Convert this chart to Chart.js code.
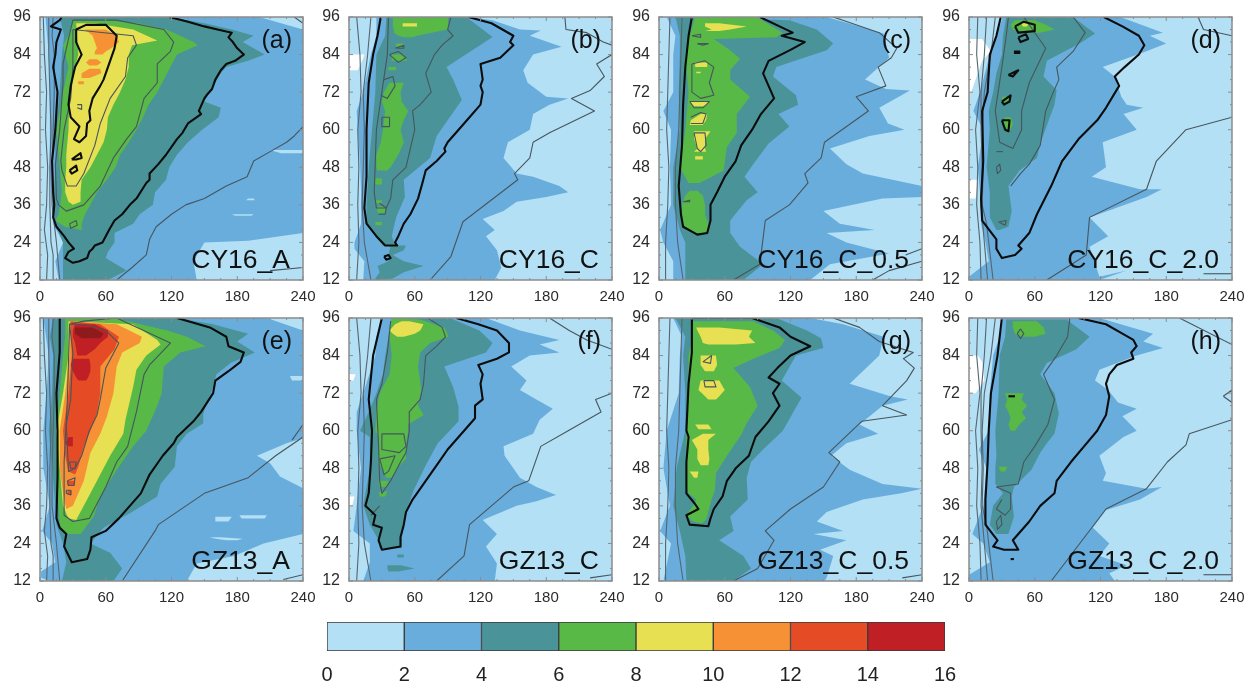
<!DOCTYPE html>
<html>
<head>
<meta charset="utf-8">
<script src="https://cdn.jsdelivr.net/npm/chart.js@4"></script>
<style>
  html, body { margin: 0; padding: 0; background: #fff; overflow: hidden; }
  canvas { position: absolute; filter: blur(0.45px); }
</style>
</head>
<body>
<script>
// colour bar
const barTicks = [0, 2, 4, 6, 8, 10, 12, 14, 16];
const barColors = ['#b3e0f5', '#69addd', '#4a9499', '#58b947', '#e6e052', '#f79135', '#e54c26', '#c01f25', '#8e1a1c'];
const white = '#ffffff';

// thin contours hugging the left edge
const leftAE = [
  [[3,96],[4,84],[6,72],[5,60],[7,48],[6,36],[4,28],[7,20],[6,12]],
  [[8,96],[8,84],[9,72],[10,60],[9,48],[9,36],[10,24],[12,20],[12,12]],
  [[12,96],[11,90],[13,84],[13,72],[12,60],[11,48],[11,36],[15,24],[18,12]]
];
const leftBF = [
  [[7,96],[10,84],[11,72],[8,60],[9,48],[8,36],[9,24],[7,12]],
  [[20,96],[17,84],[13,72],[14,60],[13,48],[12,36],[14,24],[20,12]]
];
const leftCG = [
  [[10,96],[9,84],[8,72],[7,60],[9,48],[8,36],[6,24],[6,12]],
  [[21,96],[20,84],[19,72],[18,60],[15,48],[15,36],[17,24],[22,12]]
];
const leftDH = [
  [[8,96],[7,84],[10,72],[6,60],[8,48],[7,36],[10,24],[11,12]],
  [[16,96],[14,84],[11,72],[11,60],[12,48],[11,36],[14,24],[17,12]],
  [[24,96],[20,84],[14,72],[12,60],[13,48],[12,36],[16,30],[22,12]]
];

// panel a
const a2 = [[200,96],[240,92],[240,27],[190,24.5],[150,24],[140,18],[143,12],[17,12],[14,18],[21,24],[12,30],[9,48],[9,72],[8,84],[5,96]];
const aHoles = [[[53.5,210,240],[52.5,220,240]], [[38,190,195],[37.5,188,196]], [[33,175,195],[32.5,178,193]]];
const a4 = [[118,96],[150,94],[175,92],[195,90],[185,88],[195,86],[205,84],[190,82],[170,80],[165,78],[160,75],[155,72],[150,69],[165,67],[163,64],[148,60],[135,56],[125,52],[118,48],[115,44],[105,40],[103,36],[91,33],[85,30],[68,27],[68,24],[62,21],[60,19],[79,15],[62,12],[21,12],[21,18],[21,24],[14,30],[12,36],[14,48],[14,60],[18,72],[20,84],[22,90],[18,96]];
const a6 = [[60,95],[90,94],[115,92],[128,90],[140,88],[144,87],[131,85],[125,84],[119,80],[113,76],[107,72],[99,68],[94,64],[88,60],[81,56],[73,52],[69,48],[61,44],[52,40],[46,36],[41,33],[38,30],[38,28],[23,29],[14,31],[17,33],[20,40],[18,48],[15,60],[21,72],[26,80],[21,87],[26,90],[30,95]];
const a8 = [[50,94],[85,92],[107,88.5],[84,87],[81,84],[81,80],[78,76],[73,72],[67,68],[62,64],[61,60],[58,56],[52,52],[46,48],[38,44],[37,40],[37,37],[30,36],[26,37],[23,40],[23,44],[24,48],[24,52],[26,60],[27,72],[29,76],[35,84],[33,94]];
const a10 = [[[92,41,60],[90,48,70],[88,50,72],[86,52,65],[85,50,60],[84,50,57]], [[82.5,45,52],[81.5,42,56],[80.5,45,52]], [[79.5,45,55],[78,38,56],[76.5,38,45]], [[75.5,35,40],[74.5,35,40]]];
const aThick = [
  [[118,96],[135,94.5],[150,93],[162,92],[175,91],[172,89.5],[176,88],[180,86],[186,84],[178,82],[170,81],[165,79],[160,76],[157,73],[152,71],[150,70],[145,66],[147,65],[135,62],[130,59],[125,57],[115,52],[108,49],[100,46],[100,44],[97,43],[88,38],[82,36],[75,33],[68,31],[63,28],[60,26],[57,24],[50,23],[48,22],[45,21],[43,19],[36,18],[30,17.5],[23,19],[26,21],[31,22],[26,24],[22,26],[15,29],[12,32],[13,36],[12,40],[11,50],[14,60],[15,66],[16,72],[14,76],[12,80],[14,84],[15,88],[19,92],[10,93],[18,95],[20,96]],
  [[33,92],[42,93.5],[60,93.5],[70,90],[68,86],[62,80],[58,76],[55,74],[48,70],[45,66],[46,63],[43,62],[42,58],[36,56],[31,57],[36,61],[28,64],[26,68],[28,74],[32,80],[38,84],[33,88],[33,92]],
  [[29,50.5],[37,52.5],[38,51],[33,50.5],[29,50.5]],
  [[27,47],[33,48.5],[34,47],[29,46],[27,47]]
];
const aThin = [
  [[70,95],[113,92],[122,88],[119,85],[107,81],[107,75],[95,70],[88,61],[79,57],[67,51],[55,42],[40,36],[24,34],[17,36],[15,38],[14,49],[18,60],[21,75],[21,81],[26,89],[30,95],[70,95]],
  [[30,92],[85,90],[88,87],[80,83],[78,77],[64,70],[55,62],[50,55],[40,46],[33,42],[25,42],[20,47],[19,50],[22,60],[28,70],[30,80],[30,92]],
  [[70,12],[84,16],[97,20],[100,25],[106,29],[120,33],[133,36],[150,38],[170,42],[189,45],[195,50],[210,53],[225,56],[232,58],[240,61]],
  [[210,15],[240,16]],
  [[232,96],[240,94]],
  [[27,30],[33,31],[34,29.5],[28,28.5],[27,30]],
  [[34,68],[38,68],[38,66.5],[34,67]]
];

// panel b
const b2 = [[110,96],[131,95],[156,92],[175,91.7],[165,90],[194,86.5],[168,84],[159,79],[163,75],[180,70.5],[200,70],[183,68],[168,65],[165,60],[145,56],[141,51],[153,46],[168,45],[192,42],[200,40],[180,38.5],[153,37],[141,34],[122,31.5],[133,28],[125,26],[135,21.5],[139,16],[133,12],[13,12],[14,18],[5,22],[5,24],[11,30],[11,40],[10,50],[8,60],[7,66],[13,72],[20,84],[25,90],[25,96]];
const b4 = [[107,96],[131,89.6],[122,87.5],[89,80],[95,76],[103,69.5],[90,63],[80,58],[74,51],[50,44],[51,38.5],[43,32],[39,26],[43,22.5],[31,23],[24,26],[16,30],[16,36],[18,48],[21,60],[24,72],[25,84],[33,90],[34,96]];
const b4b = [[23,38,52],[21.5,37,50],[20,36,40],[18,36,50],[16.5,26,68],[14.5,28,50],[12.5,24,40],[12,24,30]];
const b6 = [[[96,40,90],[93,40,91],[92,41,90],[91,41,75],[90,45,62],[89.5,50,58]], [[75,37,50],[72,32,47],[69,30,48],[66,33,54],[63,32,50],[60,31,47],[56,29,50],[52,25,45],[48,25,38],[47,26,35]], [[44.5,24,30],[42.5,24,30]], [[37.5,24,30],[36.5,24,30]], [[35.5,26,33],[33.5,26,33]], [[30.5,24,30],[29.5,24,30]], [[87.5,43,50],[86.5,43,50]], [[84,39,50],[82,39,53]], [[80,36,43],[79,36,43]]];
const b8 = [[94,49,62],[93,49,62]];
const bThick = [
  [[109,96],[130,94],[140,92],[150,90],[147,88],[150,87],[138,83],[120,81],[122,76],[120,74],[122,72],[120,68],[110,64],[100,60],[90,56],[87,54],[88,53],[80,50],[70,47],[67,43],[63,38],[56,33],[50,30],[45,26],[42,24],[44,23],[33,23],[25,26],[16,30],[14,35],[16,45],[16,60],[18,75],[22,84],[26,90],[29,96]],
  [[32,19.5],[36,20],[38,19],[34,18.5],[32,19.5]]
];
const bThin = [
  [[93,96],[90,92],[95,90],[85,87],[78,84],[70,78],[75,72],[65,68],[58,66],[60,60],[52,48],[40,44],[38,38],[34,35],[25,35],[23,40],[25,60],[30,72],[35,84],[36,96]],
  [[74,12],[93,19.5],[104,30.6],[154,44],[151,46],[165,51],[168,56],[183,59],[224,66],[203,70],[220,72.5],[233,77],[226,81],[240,84]],
  [[197,96],[198,92],[217,91],[232,88],[240,87]],
  [[37,84],[45,85],[52,83],[45,81.5],[37,84]],
  [[32,76],[40,77],[42,74],[35,70],[29,71]],
  [[30,64],[37,64],[37,61],[30,61],[30,64]],
  [[42,86],[50,87],[50,86],[44,86]],
  [[28,36.5],[34,35],[33,33],[27,33]]
];
const bWhite = [[84,0,14],[82,0,12],[79,0,8]];

// panel c
const c2 = [[153,96],[205,90.7],[210,83],[188,76],[207,73],[229,72.5],[201,67],[209,62],[224,60],[192,58],[156,54],[171,49],[186,46],[240,42],[240,38.5],[204,38],[150,34],[165,30],[197,28],[153,27],[171,24],[210,20.5],[156,17],[138,12],[13,12],[13,18],[4,24],[1,28],[11,36],[10,48],[11,60],[4,66],[13,72],[13,84],[15,90],[7,96]];
const c4 = [[119,95],[144,92],[159,87.5],[153,85.4],[107,80],[104,77],[125,71],[127,68],[109,65],[119,61],[100,55.6],[86,49],[78,45],[90,40],[80,37.5],[65,31],[65,27],[74,22.6],[95,17],[77,12],[24,12],[24,24],[19,28],[13,36],[13,48],[19,60],[18,72],[19,84],[19,90],[15,96]];
const c6 = [[89,96],[113,91],[107,89.5],[50,89],[65,85.4],[74,82.7],[65,79],[65,76],[83,70.5],[71,65],[71,59],[62,54.5],[59,47],[37,43],[27,43],[19,48],[24,60],[27,72],[24,84],[28,90],[33,96]];
const c6b = [[40.5,28,35],[39,24,40],[36,21,42],[33,21,42],[30,22,45],[28,26,45],[27,33,42]];
const c8 = [[[94,42,55],[93,42,80],[92,48,65],[91.5,42,55]], [[81.5,33,44],[80,33,44]], [[78.5,34,38],[78,34,38]], [[69,28,46],[67.5,32,42]], [[65,38,44],[63,29,43],[61.5,28,40]], [[59.5,32,47],[57,32,42],[54,35,42],[53,32,43]], [[51.5,33,40],[50.5,33,40]]];
const cThick = [
  [[92,96],[110,93],[122,91],[112,90],[133,88],[120,85.5],[100,82],[95,78],[100,74],[105,70],[93,65],[85,60],[75,55],[70,50],[60,45],[53,40],[47,36],[47,31],[44,27],[35,26.5],[22,29],[20,33],[18,42],[21,55],[22,68],[24,80],[27,90],[30,96]]
];
const cThin = [
  [[68,12],[92,17],[97,31],[119,36],[136,43],[133,46],[148,51],[151,56],[191,66],[180,70.5],[207,74],[200,80],[212,83],[217,86],[201,91],[159,96]],
  [[30,81],[42,82],[50,80],[46,75],[50,71],[38,70],[30,72],[30,78],[30,81]],
  [[28,69],[46,69],[40,67],[32,67],[28,69]],
  [[29,64],[38,65.5],[43,65],[40,62],[29,62]],
  [[32,59],[42,59],[43,55],[38,53],[35,54],[32,59]],
  [[30,90],[38,90.5],[38,89.5],[30,90]],
  [[35,87.5],[45,87.5],[40,87],[35,87.5]],
  [[22,37],[28,37.5],[28,37],[22,37]],
  [[195,12],[210,15],[240,18]],
  [[225,20],[240,22]]
];

// panel d
const d2 = [[138,96],[177,91],[165,90],[180,87.5],[156,84.3],[122,80],[133,77],[139,70.5],[144,68],[159,67],[141,65],[153,60],[122,56],[125,48],[112,45],[156,41],[176,41],[162,38.5],[110,32],[127,26],[110,22.6],[119,13],[144,15],[119,12],[0,12],[0,13],[18,18],[15,24],[11,30],[10,40],[8,48],[13,60],[4,66],[10,72],[19,84],[25,90],[31,96]];
const d4 = [[95,96],[115,90.7],[101,87.5],[71,82],[68,77],[80,72.6],[78,68],[65,55.6],[62,51],[46,47],[36,42],[39,34],[36,29],[28,28],[25,28],[19,32],[19,40],[16,48],[19,60],[18,66],[22,72],[25,78],[30,84],[31,90],[34,96]];
const d6 = [[[95,42,60],[93.5,38,70],[92,40,78],[91,50,65]], [[70.5,30,38],[69,30,36]], [[64,33,38],[62,31,40],[60,35,38]]];
const d8 = [[94,48,54],[93,49,53]];
const dThick = [
  [[123,96],[140,93],[155,90],[160,87],[155,84],[142,80],[133,77],[137,74],[125,67],[117,63],[100,57],[85,50],[75,42],[62,33],[55,27],[45,23],[48,22],[42,20],[30,19],[25,22],[25,25],[12,31],[11,38],[13,50],[12,66],[17,72],[19,84],[25,90],[29,96]],
  [[42,93],[50,94.5],[60,93.5],[60,91.5],[45,91],[42,93]],
  [[45,89.5],[52,90.5],[54,89],[47,88],[45,89.5]],
  [[41,85],[46,85],[46,84.5],[41,84.5]],
  [[36,77.5],[45,79],[40,77],[36,77.5]],
  [[30,69],[38,71],[37,69],[32,68],[30,69]],
  [[30,63],[37,63],[36,59.5],[33,60],[30,63]]
];
const dThin = [
  [[95,96],[106,91],[95,85],[80,80],[82,76],[77,72],[70,66],[65,55],[55,49],[47,46],[38,42]],
  [[50,96],[70,86],[55,75],[48,66],[48,60],[40,54],[28,56],[24,66],[30,80],[34,90],[36,96]],
  [[71,12],[107,20],[110,32],[162,41],[171,50],[198,60],[240,64]],
  [[209,96],[214,92],[240,90]],
  [[214,14],[240,14]],
  [[27,30.5],[34,31],[33,29.5],[27,30.5]],
  [[25,53],[31,53]],
  [[25,48],[28,49],[29,47],[26,46],[25,48]]
];
const dWhite = [[[89,0,12],[85,0,20],[82,0,12],[78,0,8],[72,0,2]], [[44,0,8],[38,0,6]]];

// panel e
const e2 = [[207,96],[240,92],[240,57.6],[225,56],[198,52],[210,49.6],[219,45.4],[240,41.6],[240,27],[204,24],[177,20],[143,17.6],[134,12],[9,12],[1,13],[1,15],[14,18],[11,24],[2,28],[9,36],[3,48],[3,60],[6,72],[8,84],[3,96]];
const eHoles = [[[32.5,160,175],[31,160,172]], [[33,182,207],[32,184,205]], [[26,155,165],[25.5,160,185],[25,170,180]], [[77.5,228,240],[76,230,240]]];
const e4 = [[125,96],[158,94],[190,91],[180,88.5],[196,85],[174,81.6],[161,78],[158,74],[149,65.5],[149,62.4],[134,59],[125,55],[123,48.5],[110,43],[107,39],[82,33.6],[58,29],[46,24],[64,21],[75,16],[67,12],[20,12],[24,18],[21,24],[15,30],[14,36],[11,48],[8,60],[11,72],[12,84],[9,90],[12,96]];
const e6 = [[67,96],[116,92],[134,90],[151,87],[128,85],[113,80.5],[111,72],[107,68],[97,60],[85,55],[70,47.5],[55,39],[49,32.6],[37,27],[24,27],[18,30],[17,36],[15,48],[15,60],[18,72],[21,84],[23,90],[23,96]];
const e8 = [[85,94],[107,89],[110,87.5],[97,84],[88,79.5],[85,74],[78,63.5],[76,59],[64,52],[52,44],[43,38],[33,31.5],[26,32],[21,36],[18,48],[15,60],[21,72],[26,84],[26,95]];
const e10 = [[70,94],[93,90],[91,88],[75,85],[70,80.5],[67,72],[61,64.5],[55,59],[46,53],[40,44],[30,36],[24,35],[21,40],[18,48],[18,60],[23,72],[27,84],[27,95]];
const e12 = [[55,94],[72,90],[68,86],[55,80.5],[55,72],[52,65.5],[46,60],[40,55],[35,48.5],[32,46],[26,47],[23,52],[21,60],[26,72],[29,84],[28,95]];
const e12b = [[[44,25,32],[42.5,25,32]], [[41,25,29],[39.5,25,29]]];
const e14 = [[[94,32,50],[92,30,62],[90,30,62],[88,32,55],[86,33,50],[84,34,42]], [[83,30,45],[81,28,46],[79,30,46],[77,33,44],[76,35,42]], [[58,26,30],[56,23,30],[55,26,30]]];
const e16 = [[93,32,48],[91,32,58],[89.5,38,55]];
const eThick = [
  [[125,96],[155,93],[170,90],[172,87],[186,85],[183,82],[172,79],[160,76],[158,72],[147,66],[140,63],[125,58],[122,56],[112,52],[100,46],[92,40],[72,32],[60,28],[47,26],[46,22],[43,19],[29,18],[22,23],[24,27],[18,29],[15,32],[16,45],[16,60],[15,72],[18,85],[18,96]]
];
const eThin = [
  [[70,96],[119,88],[100,81],[95,78],[88,66],[80,55],[70,50],[60,42],[45,32],[30,31],[22,33],[22,50],[25,70],[27,94],[40,95],[70,96]],
  [[72,88],[60,80],[55,70],[52,65],[45,60],[38,52],[32,48],[26,47],[25,55],[24,62],[28,70],[30,85],[27,94],[40,94],[60,92],[72,88]],
  [[75,12],[105,28],[108,30],[150,40],[190,45],[215,52],[240,58]],
  [[230,57],[240,62]],
  [[222,12.5],[240,14]],
  [[25,44],[32,45],[31,42.5],[26,42.5],[25,44]],
  [[24,41],[28,41],[28,39.5],[24,40],[24,41]],
  [[27,50],[33,50],[32,48],[28,48],[27,50]]
];

// panel f
const f2 = [[125,96],[156,92],[192,89],[174,87.5],[192,85],[165,84],[148,80.5],[162,76],[156,73],[171,70],[186,67],[174,63.5],[168,59],[141,55],[142,52],[156,45],[171,42],[189,39.5],[171,37.5],[153,36],[122,31.5],[135,27],[125,23],[135,17.6],[133,12],[13,12],[19,18],[19,24],[4,28],[7,36],[11,48],[7,60],[7,66],[13,72],[24,84],[25,90],[30,96]];
const f4 = [[92,96],[119,92],[131,88],[125,85],[87,80.5],[95,74],[100,67.7],[100,63],[81,56],[71,49.6],[59,41],[54,36],[48,28],[48,22.5],[28,22.5],[27,25],[19,30],[13,36],[19,48],[19,58],[10,60],[18,66],[25,72],[31,78],[33,84],[36,90],[39,96]];
const f4b = [[[17,35,47],[16,35,60],[15,36,45]], [[20.5,44,50],[19.5,44,50]]];
const f6 = [[65,95.5],[87,93],[91,90],[74,88],[65,85],[63,80.5],[66,73],[63,68],[68,65],[54,62],[54,60],[52,55],[52,51],[45,48.5],[39,45],[34,45],[31,47],[27,50],[27,58],[24,60],[25,66],[28,72],[37,78],[39,84],[37,90],[39,96]];
const f6b = [[[44,27,36],[42,28,35]], [[40.5,27,35],[39,28,33]]];
const f8 = [[95,48,55],[94,42,68],[92,37,65],[91,40,60],[90,44,50]];
const fThick = [
  [[98,96],[118,94],[135,92],[146,88],[146,85],[135,83],[118,81],[122,78],[120,75],[122,70],[115,68],[115,64],[110,62],[100,58],[90,54],[82,50],[70,44],[58,38],[52,34],[50,30],[47,26],[47,23],[30,22],[27,25],[30,29],[22,30],[24,33],[15,36],[18,40],[20,50],[21,60],[18,70],[22,84],[30,96]]
];
const fThin = [
  [[72,96],[85,93],[88,90],[80,87],[70,84],[68,75],[65,70],[55,66],[55,60],[52,53],[47,50],[38,44],[30,40],[28,44],[27,55],[25,70],[30,75],[35,85],[38,95]],
  [[80,12],[105,20],[110,30],[150,42],[164,44],[175,55],[200,60],[230,66],[225,70],[240,72]],
  [[183,96],[201,92],[217,89],[240,86]],
  [[30,59],[50,59],[52,55],[46,53],[30,54],[30,59]],
  [[28,51],[42,52],[36,47],[32,46],[28,51]],
  [[28,36],[20,33]],
  [[240,14],[220,13]]
];
const fWhite = [[[78,0,6],[76,0,4]], [[39,0,5],[36,0,3]]];

// panel g
const g2 = [[138,96],[168,94],[205,90],[201,84],[174,75],[211,71],[227,70],[204,68],[183,62],[200,59],[171,56],[157,52],[174,47.5],[204,43],[240,41.5],[221,40],[186,38],[153,34],[144,31],[168,28],[141,27],[171,25],[147,22],[159,20],[153,13],[151,12],[4,12],[11,24],[1,28],[10,36],[4,48],[7,60],[18,72],[19,84],[21,90],[13,96]];
const g4 = [[107,96],[135,92],[148,89.5],[150,86.4],[125,84],[112,76],[130,70.5],[122,65.6],[113,60],[95,54],[84,50],[80,45],[81,38],[65,32.6],[68,28],[55,25],[77,20],[84,16],[68,12],[25,12],[24,20],[19,28],[13,36],[16,48],[24,60],[24,72],[22,84],[24,90],[15,96]];
const g6 = [[86,95],[104,92],[115,89],[110,86.4],[86,83],[68,80],[83,74],[90,68],[80,62.4],[75,58.7],[62,52],[52,46.4],[51,41],[48,38],[43,31.5],[39,30.4],[31,31],[25,33],[31,36],[34,38],[27,40],[25,42],[25,48],[25,60],[27,72],[27,84],[31,90],[31,95]];
const g8 = [[[93,34,55],[92,35,85],[90,38,82],[88,40,88],[87.5,45,70]], [[84,38,52],[81,38,53],[79,42,50]], [[76,38,55],[73,36,60],[71,42,55],[70,45,52]], [[62,33,45],[60.5,36,48]], [[59,40,52],[57,30,45],[54,35,45],[51,35,46],[49,38,45]], [[47,28,36],[45,32,35]]];
const gThick = [
  [[30,96],[85,96],[110,93],[120,90],[138,87],[120,84],[108,80],[100,77],[110,75],[104,72],[110,68],[100,63],[88,58],[82,52],[70,48],[62,44],[58,39],[50,35],[47,32],[45,29.5],[28,30],[25,33],[36,35],[32,37],[25,40],[25,50],[27,58],[25,60],[27,75],[30,85],[30,96]]
];
const gThin = [
  [[68,12],[90,16],[105,25],[97,28],[120,35],[150,42],[165,50],[155,53],[185,63],[226,65],[204,68],[226,76],[233,80],[223,83],[232,85],[201,88.5],[183,93],[159,96]],
  [[40,82],[48,84],[47,81.5],[40,82]],
  [[41,76],[50,76],[52,74],[42,74],[41,76]],
  [[240,14],[222,13]]
];

// panel h
const h2 = [[119,96],[168,91],[159,88.5],[177,86.4],[153,84],[119,79.5],[115,76],[127,73],[136,69],[153,67],[140,64.6],[153,60],[141,58],[119,52],[125,46.4],[122,44],[162,41.5],[176,42],[156,38],[125,34.7],[113,29],[128,24],[119,20],[144,17],[128,14.5],[133,12],[0,12],[0,14],[19,18],[13,24],[3,27],[13,36],[16,48],[9,54],[18,60],[19,72],[22,84],[28,90],[31,96]];
const h4 = [[89,95.5],[110,90],[98,86],[71,81.6],[65,78],[78,72],[82,65.6],[78,59],[71,56],[65,53],[57,47.5],[41,42],[39,39],[41,32.6],[36,27],[25,27],[19,30],[22,36],[31,40],[24,43],[24,48],[25,52],[24,60],[27,72],[28,84],[33,90],[34,95.5]];
const h6 = [[[95,40,62],[93,40,68],[91,42,70],[90,46,60]], [[72,33,50],[70,35,48],[68,33,53],[66,36,48],[64,38,52],[62,36,46],[60,38,42]], [[48.5,27,35],[47,29,33]]];
const hThick = [
  [[100,96],[125,94],[140,91],[150,89],[153,87],[148,85],[150,83],[135,81],[128,78],[125,75],[128,71],[125,65],[117,60],[105,55],[93,50],[80,44],[78,40],[65,36],[55,31],[45,27],[40,25],[45,22],[32,22],[22,23],[26,25],[15,30],[15,38],[17,50],[18,60],[20,72],[26,84],[30,96]],
  [[36,71],[42,71]],
  [[38,19],[41,19]]
];
const hThin = [
  [[92,96],[90,90],[80,84],[68,78],[78,70],[72,62],[60,55],[50,50],[45,43],[25,42],[38,40],[38,35],[33,33],[25,35],[30,38]],
  [[44,91],[47,92.5],[50,91],[47,89.5],[44,91]],
  [[25,31],[29,33],[30,30],[26,28.5],[25,31]],
  [[75,12],[112,29],[125,35],[162,41.5],[181,50],[198,55.5],[201,59],[240,63.5]],
  [[192,96],[240,87.5]],
  [[214,14],[240,14]],
  [[232,71],[240,73],[240,69],[232,71]]
];
const hWhite = [[84,0,8],[82,0,12],[76,0,14],[72,0,6]];

const plotBox = [[0, 240], [12, 96]];

// island rows are [y, left, right], turn them into an outline
function rowsToOutline(rows) {
  const right = rows.map(r => [r[2], r[0]]);
  const left = rows.map(r => [r[1], r[0]]).reverse();
  return right.concat(left);
}
const many = (colorIdx, list) => list.map(rows => [colorIdx, rowsToOutline(rows)]);
const full = [[plotBox[0][1], plotBox[1][1]], [plotBox[0][1], plotBox[1][0]], [plotBox[0][0], plotBox[1][0]], [plotBox[0][0], plotBox[1][1]]];

const panels = [
  { tag: '(a)', name: 'CY16_A', left: 0, top: 0, strip: leftAE, thick: aThick, thin: aThin,
    fills: [[1, a2], ...many(0, aHoles), [2, a4], [3, a6], [4, a8], ...many(5, a10)] },
  { tag: '(b)', name: 'CY16_C', left: 309, top: 0, strip: leftBF, thick: bThick, thin: bThin,
    fills: [[1, b2], ...many(-1, [bWhite]), [2, b4], ...many(2, [b4b]), ...many(3, b6), ...many(4, [b8])] },
  { tag: '(c)', name: 'CY16_C_0.5', left: 619, top: 0, strip: leftCG, thick: cThick, thin: cThin,
    fills: [[1, c2], [2, c4], [3, c6], ...many(3, [c6b]), ...many(4, c8)] },
  { tag: '(d)', name: 'CY16_C_2.0', left: 929, top: 0, strip: leftDH, thick: dThick, thin: dThin,
    fills: [...many(-1, dWhite), [1, d2], [2, d4], ...many(3, d6), ...many(4, [d8])] },
  { tag: '(e)', name: 'GZ13_A', left: 0, top: 301, strip: leftAE, thick: eThick, thin: eThin,
    fills: [[1, e2], ...many(0, eHoles), [2, e4], [3, e6], [4, e8], [5, e10], [6, e12], ...many(6, e12b), ...many(7, e14), ...many(8, [e16])] },
  { tag: '(f)', name: 'GZ13_C', left: 309, top: 301, strip: leftBF, thick: fThick, thin: fThin,
    fills: [...many(-1, fWhite), [1, f2], [2, f4], ...many(2, f4b), [3, f6], ...many(3, f6b), ...many(4, [f8])] },
  { tag: '(g)', name: 'GZ13_C_0.5', left: 619, top: 301, strip: leftCG, thick: gThick, thin: gThin,
    fills: [[1, g2], [2, g4], [3, g6], ...many(4, g8)] },
  { tag: '(h)', name: 'GZ13_C_2.0', left: 929, top: 301, strip: leftDH, thick: hThick, thin: hThin,
    fills: [...many(-1, [hWhite]), [1, h2], [2, h4], ...many(3, h6)] }
];

const toPoints = arr => arr.map(p => ({ x: p[0], y: p[1] }));

function addCanvas(left, top, width, height) {
  const c = document.createElement('canvas');
  c.width = width;
  c.height = height;
  c.style.left = left + 'px';
  c.style.top = top + 'px';
  document.body.appendChild(c);
  return c.getContext('2d');
}

// frame, inward ticks and the two labels of a panel
function panelDecor(p) {
  return {
    id: 'panelDecor',
    afterDatasetsDraw(chart) {
      const { ctx, chartArea: a, scales } = chart;
      ctx.save();
      ctx.strokeStyle = '#8c8c8c';
      ctx.lineWidth = 1;
      for (let v = 0; v <= 240; v += 15) {
        const x = scales.x.getPixelForValue(v);
        const len = v % 60 === 0 ? 4 : 2;
        ctx.beginPath();
        ctx.moveTo(x, a.top); ctx.lineTo(x, a.top + len);
        ctx.moveTo(x, a.bottom); ctx.lineTo(x, a.bottom - len);
        ctx.stroke();
      }
      for (let v = 12; v <= 96; v += 4) {
        const y = scales.y.getPixelForValue(v);
        const len = (v - 12) % 12 === 0 ? 4 : 2;
        ctx.beginPath();
        ctx.moveTo(a.left, y); ctx.lineTo(a.left + len, y);
        ctx.moveTo(a.right, y); ctx.lineTo(a.right - len, y);
        ctx.stroke();
      }
      ctx.lineWidth = 1.5;
      ctx.strokeRect(a.left, a.top, a.right - a.left, a.bottom - a.top);
      ctx.fillStyle = '#111';
      ctx.textAlign = 'right';
      ctx.textBaseline = 'alphabetic';
      ctx.font = '25px "Liberation Sans"';
      ctx.fillText(p.tag, a.right - 11, a.top + 31);
      ctx.font = '26.5px "Liberation Sans"';
      ctx.fillText(p.name, a.right - 13, a.bottom - 12);
      ctx.restore();
    }
  };
}

panels.forEach(p => {
  const datasets = [];
  const addFill = (color, outline) => datasets.push({
    data: toPoints(outline), showLine: true, fill: 'shape', backgroundColor: color,
    borderWidth: 0, pointRadius: 0
  });
  const addLine = (color, width, line) => datasets.push({
    data: toPoints(line), showLine: true, fill: false, borderColor: color,
    borderWidth: width, pointRadius: 0, borderJoinStyle: 'round'
  });
  addFill(barColors[0], full);
  p.fills.forEach(f => addFill(f[0] < 0 ? white : barColors[f[0]], f[1]));
  p.strip.forEach(l => addLine('#56656f', 1.1, l));
  p.thin.forEach(l => addLine('#47555c', 1.1, l));
  p.thick.forEach(l => addLine('#0c0c0c', 2.1, l));
  // earlier datasets get a higher order so they are painted first
  datasets.forEach((d, i) => { d.order = datasets.length - i; });

  new Chart(addCanvas(p.left, p.top, 320, 305), {
    type: 'scatter',
    data: { datasets },
    options: {
      responsive: false,
      animation: false,
      layout: { padding: { top: 17, right: 17, left: 0, bottom: 0 } },
      plugins: { legend: { display: false }, tooltip: { enabled: false } },
      scales: {
        x: {
          type: 'linear', min: 0, max: 240,
          grid: { display: false, drawTicks: false }, border: { display: false },
          // the 240 label may hang over, plot width must not shrink for it
          afterFit: s => { s.height = 25; s.paddingLeft = 0; s.paddingRight = 0; },
          ticks: { stepSize: 60, maxRotation: 0, autoSkip: false, padding: 8, color: '#2b2b2b', font: { family: 'Liberation Sans', size: 15 } }
        },
        y: {
          type: 'linear', min: 12, max: 96,
          grid: { display: false, drawTicks: false }, border: { display: false },
          afterFit: s => { s.width = 40; s.paddingTop = 0; s.paddingBottom = 0; },
          ticks: { stepSize: 12, autoSkip: false, padding: 9, color: '#2b2b2b', font: { family: 'Liberation Sans', size: 16 } }
        }
      }
    },
    plugins: [panelDecor(p)]
  });
});

// colour bar below the panels
new Chart(addCanvas(300, 610, 680, 75), {
  type: 'bar',
  data: {
    labels: ['mm'],
    datasets: barColors.slice(0, 8).map((c, i) => ({
      data: [barTicks[i + 1] - barTicks[i]], backgroundColor: c,
      borderColor: '#3a3a3a', borderWidth: 1, borderSkipped: false,
      barPercentage: 1, categoryPercentage: 1
    }))
  },
  options: {
    indexAxis: 'y',
    responsive: false,
    animation: false,
    layout: { padding: { top: 12, left: 27, right: 35, bottom: 0 } },
    plugins: { legend: { display: false }, tooltip: { enabled: false } },
    scales: {
      y: { stacked: true, display: false },
      x: {
        stacked: true, min: 0, max: 16,
        grid: { display: false, drawTicks: false }, border: { display: false },
        afterFit: s => { s.height = 34; s.paddingLeft = 0; s.paddingRight = 0; },
        ticks: { stepSize: 2, autoSkip: false, maxRotation: 0, padding: 12, color: '#222', font: { family: 'Liberation Sans', size: 20 } }
      }
    }
  }
});
</script>
</body>
</html>
